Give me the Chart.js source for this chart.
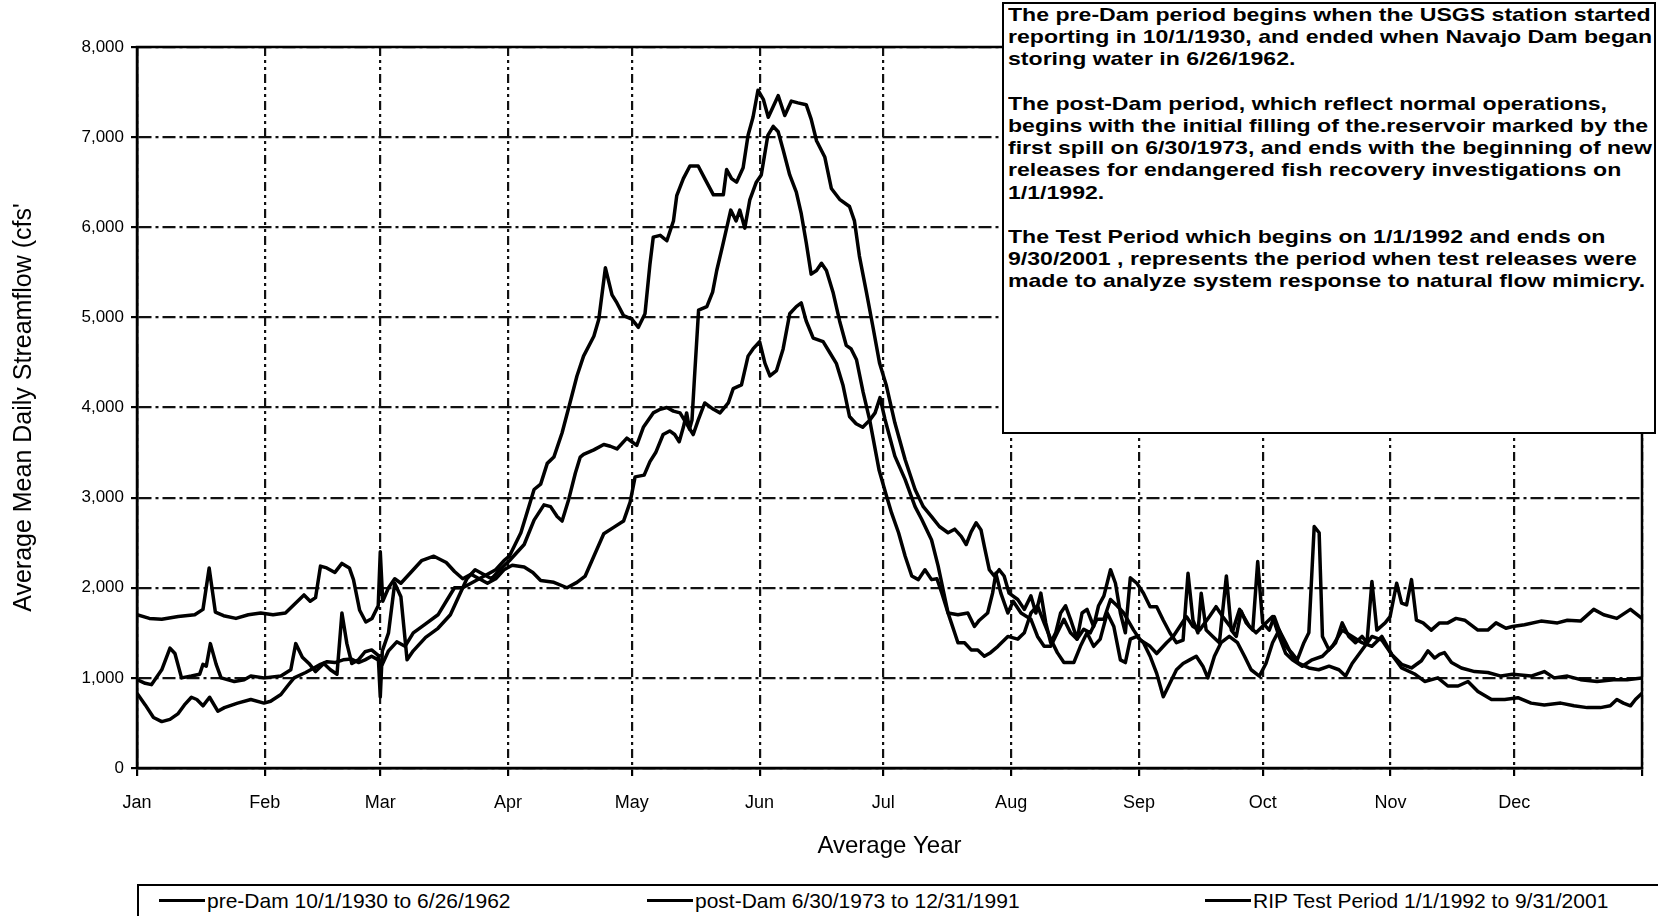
<!DOCTYPE html>
<html>
<head>
<meta charset="utf-8">
<title>Average Mean Daily Streamflow</title>
<script src="https://cdn.jsdelivr.net/npm/chart.js@4.4.1/dist/chart.umd.min.js"></script>
<style>
  html, body { margin: 0; padding: 0; background: #fff; }
  #wrap { position: relative; width: 1658px; height: 916px; overflow: hidden;
          font-family: "Liberation Sans", Arial, sans-serif; color: #000; }
  #chart { position: absolute; left: 0; top: 0; }
  #note { position: absolute; left: 1002px; top: 2px; width: 654px; height: 432px;
          box-sizing: border-box; border: 2px solid #000; background: #fff;
          padding: 0 0 0 4px; overflow: hidden; }
  #note .txt { font-size: 19px; font-weight: bold; line-height: 22.2px; white-space: nowrap;
               transform: scaleX(1.215); transform-origin: 0 0; }
  #note p { margin: 0 0 22.2px 0; }
  #legend { position: absolute; left: 137px; top: 884px; width: 1525px; height: 60px;
            box-sizing: border-box; border: 2px solid #000; background: #fff; }
  #legend .item { position: absolute; top: 2px; font-size: 21px; line-height: 26px; white-space: nowrap; }
  #legend .swatch { display: inline-block; width: 46px; height: 3px; background: #000;
                    vertical-align: middle; margin-right: 2px; position: relative; top: -2px; }
</style>
</head>
<body>
<div id="wrap">
  <canvas id="chart" width="1658" height="916"></canvas>
  <div id="note"><div class="txt">
    <p>The pre-Dam period begins when the USGS station started<br>reporting in 10/1/1930, and ended when Navajo Dam began<br>storing water in 6/26/1962.</p>
    <p>The post-Dam period, which reflect normal operations,<br>begins with the initial filling of the.reservoir marked by the<br>first spill on 6/30/1973, and ends with the beginning of new<br>releases for endangered fish recovery investigations on<br>1/1/1992.</p>
    <p>The Test Period which begins on 1/1/1992 and ends on<br>9/30/2001 , represents the period when test releases were<br>made to analyze system response to natural flow mimicry.</p>
  </div></div>
  <div id="legend"></div>
</div>
<script>
// month starts (day of year) and their labels
const monthDays = [0, 31, 59, 90, 120, 151, 181, 212, 243, 273, 304, 334];
const monthNames = ['Jan', 'Feb', 'Mar', 'Apr', 'May', 'Jun', 'Jul', 'Aug', 'Sep', 'Oct', 'Nov', 'Dec'];

const seriesLabels = [
  'pre-Dam 10/1/1930 to 6/26/1962',
  'post-Dam 6/30/1973 to 12/31/1991',
  'RIP Test Period 1/1/1992 to 9/31/2001'
];

// [day of year, cfs]
const preDam = [
  [0,830],[2,700],[4,560],[6,515],[8,540],[9.9,600],[11.5,700],[13.2,785],[14.5,760],[16,690],
  [17.6,785],[19.6,630],[21.2,670],[24.4,720],[27.6,760],[30.8,720],[32.4,740],[34.9,815],[36.5,910],
  [38.1,1000],[40.9,1060],[42.9,1110],[44.5,1150],[46.1,1180],[48,1170],[50,1200],[52,1210],[53.7,1170],
  [55.3,1200],[56.9,1240],[58.5,1200],[59.5,1150],[61,1300],[63,1400],[65,1350],[67,1500],[70,1600],
  [73,1700],[75,1850],[77,2000],[79,2000],[81,2050],[83,2100],[85,2150],[87,2200],[89,2300],[90.3,2350],
  [93.1,2610],[96.3,3090],[97.9,3150],[99.5,3380],[101.1,3450],[103.1,3720],[105,4050],[106.7,4350],
  [108.3,4570],[110.8,4790],[112,4980],[113.6,5550],[115.2,5250],[116.4,5160],[118,5020],[120,4980],
  [121.6,4890],[123.2,5040],[124.4,5590],[125.2,5890],[126.9,5910],[128.5,5850],[130.1,6070],[130.9,6350],
  [132.5,6540],[134.1,6680],[136.1,6680],[137.7,6540],[139.8,6360],[142.2,6360],[143,6640],[144.2,6540],
  [145.4,6500],[147,6660],[148.2,7020],[149.4,7220],[150.6,7520],[151.9,7420],[153.1,7220],[154.3,7340],
  [155.5,7460],[157.1,7240],[158.7,7400],[160.3,7380],[162.3,7360],[163.5,7200],[164.8,6960],[166.8,6780],
  [168.4,6430],[170.4,6310],[172.8,6230],[174,6070],[175.2,5680],[176.9,5280],[178.5,4890],[180.1,4490],
  [181.7,4250],[183.8,3830],[186.3,3420],[188.7,3090],[190.7,2900],[192.7,2790],[194.6,2680],[196.7,2610],
  [198.3,2650],[199.9,2570],[201.1,2480],[202.3,2620],[203.5,2720],[204.7,2640],[205.5,2460],[206.7,2200],
  [207.9,2130],[209.1,2200],[210.3,2130],[211.5,1940],[213.6,1870],[215.2,1760],[216.8,1910],[218,1720],
  [219.2,1940],[220.4,1610],[221.6,1390],[222.8,1500],[224,1720],[225.2,1800],[226.4,1650],[228,1430],
  [229.2,1720],[230.4,1760],[232,1570],[233.2,1800],[234.5,1910],[236.1,2200],[237.3,2050],[238.5,1720],
  [239.7,1500],[240.9,2110],[242.5,2050],[244.1,1940],[245.7,1790],[247.3,1790],[248.9,1640],[250.5,1500],
  [252.1,1390],[253.7,1420],[254.9,2160],[256.1,1640],[257.3,1500],[258.1,1940],[259.3,1530],[260.9,1460],
  [262.5,1390],[264.2,2130],[265.4,1530],[266.6,1460],[267.8,1740],[269,1610],[270.6,1530],[271.8,2290],
  [273,1610],[274.6,1530],[275.8,1680],[277,1530],[278.6,1390],[280.2,1240],[281.8,1160],[284.2,1110],
  [286.6,1090],[289.1,1130],[291.5,1090],[293.1,1020],[294.7,1160],[297.1,1310],[299.5,1460],[301.9,1420],
  [304.3,1260],[306.7,1110],[310,1040],[312.3,960],[315.5,1000],[317.9,910],[320.4,910],[322.8,960],
  [325.2,850],[328.5,760],[331.7,760],[334.9,780],[338.1,720],[341.3,700],[345.3,720],[348.5,690],
  [351.7,670],[354.9,670],[357.3,690],[358.9,760],[360.5,720],[362.2,690],[363.4,760],[365,830]
];

const postDam = [
  [0,980],[2,940],[3.5,925],[6,1090],[8,1330],[9.2,1270],[10.8,1000],[13.2,1020],[15.2,1040],[16,1150],
  [16.8,1130],[17.8,1380],[19.2,1150],[20.4,1000],[23.6,960],[26,980],[27.6,1020],[30.8,1000],[34.9,1020],
  [37.3,1090],[38.5,1380],[40.1,1230],[41.7,1160],[43.3,1070],[45.3,1160],[46.9,1090],[48.5,1040],
  [49.7,1720],[50.9,1380],[52.1,1160],[53.7,1200],[55.3,1290],[56.9,1310],[58.5,1250],[59,790],[59.5,1300],
  [61,1500],[62.5,2050],[64,1900],[65.5,1200],[67,1300],[70,1450],[73,1550],[76,1700],[78,1900],[80,2100],
  [82,2200],[84,2150],[86,2100],[88,2200],[90.3,2300],[93.9,2480],[96.3,2750],[98.7,2920],[100.3,2900],
  [101.9,2790],[103.1,2740],[104.7,2980],[106.3,3270],[107.5,3450],[108.3,3480],[110.8,3530],[113.2,3590],
  [114.8,3570],[116.4,3540],[118.8,3660],[120,3620],[121.2,3580],[122.8,3780],[125.2,3940],[126.9,3980],
  [128.5,4000],[130.1,3960],[131.7,3940],[133.3,3820],[134.9,3700],[136.1,3860],[137.7,4050],[139.8,3980],
  [141.4,3940],[143.4,4050],[144.6,4210],[146.6,4250],[148.2,4570],[149.4,4650],[151,4730],[152.3,4490],
  [153.5,4350],[155.1,4410],[156.7,4650],[158.3,5040],[159.9,5120],[161.1,5160],[162.3,4960],[164,4770],
  [166.4,4730],[168,4610],[169.6,4490],[171.2,4250],[172.8,3900],[174.4,3820],[176,3780],[177.7,3860],
  [179,3940],[180.2,4110],[181.4,3870],[183.8,3460],[186.3,3200],[188.7,2900],[190.3,2760],[192.7,2530],
  [194.3,2240],[196,1870],[196.7,1720],[199.1,1700],[201.5,1720],[203.1,1570],[204.3,1640],[206.3,1720],
  [207.5,1940],[208.3,2160],[209.5,1940],[211.2,1720],[212.5,1850],[214.4,1720],[216.8,1650],[218.4,1460],
  [220,1350],[221.6,1350],[223.2,1500],[224.8,1650],[226.4,1500],[228,1430],[229.6,1540],[231.2,1500],
  [232.8,1650],[234.5,1650],[236.1,1870],[237.7,1800],[239.3,1720],[241.7,1530],[243.3,1420],[245.7,1350],
  [247.3,1270],[249.7,1390],[251.3,1460],[252.9,1570],[254.5,1680],[256.1,1570],[257.7,1530],[260.1,1680],
  [261.7,1790],[263.3,1680],[265.8,1530],[267.4,1760],[269.8,1570],[271.4,1500],[273.8,1610],[275.4,1680],
  [277,1460],[278.6,1270],[280.2,1200],[282.6,1130],[285,1200],[287.5,1240],[289.9,1350],[292.3,1530],
  [294.7,1460],[297.1,1390],[299.5,1350],[301.9,1460],[304.3,1260],[306.7,1150],[309.1,1110],[311.5,1190],
  [313.1,1300],[314.7,1220],[315.9,1260],[317.1,1280],[318.8,1170],[321.2,1110],[324.4,1070],[327.6,1060],
  [330.8,1020],[333.6,1040],[338.1,1020],[341.3,1070],[343.7,1000],[346.9,1020],[350.1,980],[354.1,960],
  [358.1,980],[361.4,980],[365,1000]
];

const ripTest = [
  [0,1700],[3,1660],[6,1650],[10,1680],[14,1700],[16,1760],[17.5,2220],[19,1730],[21,1690],[24,1660],
  [27,1700],[30,1720],[33,1700],[36,1720],[38.5,1830],[40.5,1920],[42,1850],[43.3,1890],[44.5,2240],
  [46,2220],[48,2170],[49.7,2270],[51.5,2220],[52.5,2090],[54,1750],[55.5,1620],[57,1660],[58.5,1800],
  [59,2400],[59.6,1850],[61,2000],[62.5,2100],[64,2050],[66,2150],[69,2300],[72,2350],[75,2280],[77,2180],
  [79,2100],[81,2150],[83,2100],[85,2050],[87,2100],[89,2200],[91,2250],[93.9,2230],[96,2170],[97.9,2080],
  [101.1,2060],[104.3,2000],[106.7,2060],[108.7,2130],[110.8,2350],[113.2,2600],[115.6,2670],[118,2740],
  [119.6,2950],[120.8,3230],[123,3250],[124.4,3400],[125.8,3500],[127.6,3700],[129.2,3740],[130.4,3700],
  [131.5,3620],[132.5,3780],[133.3,3940],[134,3760],[134.6,3860],[135.2,4330],[136.2,5080],[138.2,5120],
  [139.6,5280],[140.6,5520],[142,5790],[144,6190],[145.3,6070],[146.2,6190],[147.4,5990],[148.6,6300],
  [150.2,6500],[151.4,6580],[153,7020],[154.3,7120],[155.5,7060],[156.7,6860],[158.3,6580],[159.9,6390],
  [161.1,6150],[162.3,5830],[163.5,5480],[164.8,5520],[166,5600],[167.2,5520],[168.8,5280],[170.4,4960],
  [172,4690],[173.2,4650],[174.5,4530],[176.1,4170],[177.7,3860],[180,3300],[181.7,3030],[183,2830],
  [184.7,2610],[186.3,2350],[187.9,2130],[189.5,2090],[191.1,2200],[192.7,2090],[194,2100],[195.2,1940],
  [196.7,1720],[197.5,1610],[198.3,1500],[199.1,1390],[200.7,1390],[202.3,1310],[203.9,1310],[205.5,1240],
  [207,1280],[208.8,1350],[211.2,1460],[213.6,1430],[215.2,1500],[216.8,1720],[218.4,1800],[220,1610],
  [221.6,1430],[223.2,1280],[224.8,1170],[227.2,1170],[228.8,1350],[230.4,1500],[232,1350],[233.6,1430],
  [235.3,1720],[236.9,1570],[238.5,1200],[239.7,1170],[240.9,1430],[242.5,1460],[244.1,1390],[245.7,1240],
  [247.3,1050],[248.9,790],[250.5,940],[252.1,1090],[253.7,1160],[255.3,1200],[256.9,1240],[258.5,1130],
  [259.7,1000],[261.3,1240],[262.9,1390],[264.9,1460],[266.9,1390],[268.6,1240],[270.2,1090],[272.2,1020],
  [273.8,1160],[275.4,1390],[277,1530],[278.6,1350],[280.2,1270],[281.4,1200],[283,1390],[284.2,1500],
  [285.5,2680],[286.7,2610],[287.5,1460],[289.1,1310],[290.7,1390],[292.3,1610],[293.9,1460],[295.5,1390],
  [297.1,1460],[298.3,1390],[299.5,2070],[300.7,1530],[302.7,1610],[303.9,1680],[305.5,2050],[306.7,1830],
  [307.9,1810],[309.1,2090],[310.3,1640],[311.9,1610],[313.9,1530],[315.9,1610],[317.9,1610],[319.9,1660],
  [322,1640],[325.2,1530],[327.6,1530],[329.6,1610],[332,1550],[333.6,1570],[336.5,1590],[340.5,1630],
  [344.5,1610],[346.9,1640],[350.1,1630],[353.3,1760],[355.7,1700],[358.9,1660],[362.2,1760],[365,1660]
];

// page positions of the three legend entries
const legendLeft = [159, 647, 1205];

Chart.defaults.font.family = '"Liberation Sans", Arial, sans-serif';
Chart.defaults.color = '#000';

// solid frame round the plot area
const frame = {
  id: 'frame',
  beforeDatasetsDraw(chart) {
    const { ctx, chartArea: a } = chart;
    ctx.save();
    ctx.strokeStyle = '#000';
    ctx.lineWidth = 2.5;
    ctx.strokeRect(a.left, a.top, a.right - a.left, a.bottom - a.top);
    ctx.restore();
  }
};

const line = (label, data) => ({
  label, data, borderColor: '#000', borderWidth: 3.5, pointRadius: 0,
  tension: 0, fill: false, borderJoinStyle: 'round'
});

const chart = new Chart(document.getElementById('chart'), {
  type: 'line',
  data: {
    datasets: [
      line(seriesLabels[0], preDam),
      line(seriesLabels[1], postDam),
      line(seriesLabels[2], ripTest)
    ]
  },
  options: {
    responsive: false,
    animation: false,
    devicePixelRatio: 1,
    layout: { padding: { left: 0, right: 7, top: 47, bottom: 54 } },
    plugins: { legend: { display: false }, tooltip: { enabled: false } },
    scales: {
      x: {
        type: 'linear', min: 0, max: 365,
        afterBuildTicks: s => { s.ticks = monthDays.concat(365).map(v => ({ value: v })); },
        afterFit: s => { s.height = 94; },
        ticks: {
          autoSkip: false, maxRotation: 0, padding: 16,
          font: { size: 18 },
          callback: v => { const i = monthDays.indexOf(v); return i < 0 ? '' : monthNames[i]; }
        },
        grid: { color: '#111', lineWidth: 2.2, tickLength: 8, tickColor: '#000' },
        border: { display: true, color: '#000', width: 2.5, dash: [9, 4, 3, 4, 3, 4] },
        title: { display: true, text: 'Average Year', font: { size: 24 }, padding: { top: 4, bottom: 1 } }
      },
      y: {
        min: 0, max: 8000,
        afterFit: s => { s.width = 137; },
        ticks: {
          stepSize: 1000, padding: 7, font: { size: 17 },
          callback: v => v.toLocaleString('en-US')
        },
        grid: { color: '#111', lineWidth: 2.2, tickLength: 6, tickColor: '#000' },
        border: { display: true, color: '#000', width: 2.5, dash: [13, 4, 3, 4] },
        title: { display: true, text: "Average Mean Daily Streamflow (cfs'", font: { size: 25 }, padding: { top: 9, bottom: 0 } }
      }
    }
  },
  plugins: [frame]
});

// legend row built from the dataset labels
const legendBox = document.getElementById('legend');
chart.data.datasets.forEach((ds, i) => {
  const item = document.createElement('div');
  item.className = 'item';
  item.style.left = (legendLeft[i] - 139) + 'px';
  item.innerHTML = '<span class="swatch"></span>' + ds.label;
  legendBox.appendChild(item);
});
</script>
</body>
</html>
